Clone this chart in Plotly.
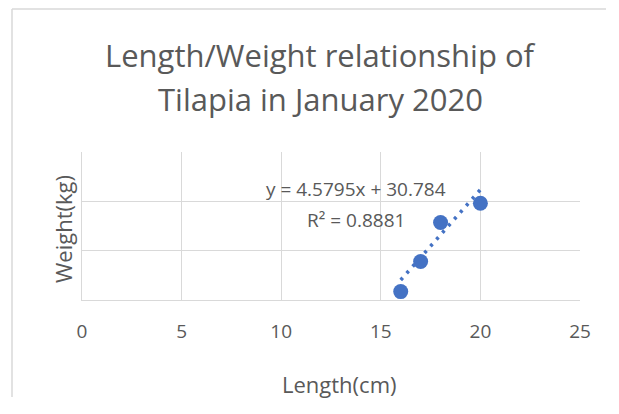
import plotly.graph_objects as go

length_cm = [16, 17, 18, 20]
weight_kg = [101.7, 107.8, 115.7, 119.6]
trend_slope = 4.5795
trend_intercept = 30.784
r_squared = 0.8881
x_ticks = [0, 5, 10, 15, 20, 25]

blue = "#4472C4"
grey_text = "#595959"
grid = "#D9D9D9"
font_family = "Open Sans, Noto Sans, sans-serif"

trend_x = [min(length_cm), max(length_cm)]
trend_y = [trend_slope * v + trend_intercept for v in trend_x]

# plot area in page pixels: x 82..580, y 152..300 (page has 8px body margin)
PL, PR, PT, PB = 82, 580, 152, 300


def px(x):
    return (x - PL) / (PR - PL)


def py(y):
    return (PB - y) / (PB - PT)


fig = go.Figure()
fig.add_trace(go.Scatter(x=trend_x, y=trend_y, mode="lines",
                         line=dict(color=blue, width=3.5, dash="3px,6px"),
                         hoverinfo="skip", showlegend=False))
fig.add_trace(go.Scatter(x=length_cm, y=weight_kg, mode="markers",
                         marker=dict(color=blue, size=15), showlegend=False))

border = dict(color="#D9D9D9", width=1.5)
fig.update_layout(
    width=600, height=390,
    margin=dict(l=74, r=28, t=144, b=98),
    paper_bgcolor="white", plot_bgcolor="white",
    font=dict(family=font_family, color=grey_text),
    xaxis=dict(range=[0, 25], tickvals=x_ticks, showgrid=True, gridcolor=grid,
               gridwidth=1, zeroline=False, showline=True, linecolor=grid,
               ticks="", ticklabelstandoff=14,
               tickfont=dict(size=19, color=grey_text)),
    yaxis=dict(range=[100, 130], dtick=10, showgrid=True, gridcolor=grid,
               zeroline=False, showline=True, linecolor=grid, showticklabels=False,
               ticks=""),
    shapes=[
        dict(type="line", xref="paper", yref="paper", x0=px(12), y0=py(9),
             x1=px(606), y1=py(9), line=border, layer="below"),
        dict(type="line", xref="paper", yref="paper", x0=px(12), y0=py(9),
             x1=px(12), y1=py(397), line=border, layer="below"),
    ],
    annotations=[
        dict(text="Length/Weight relationship of", xref="paper", yref="paper",
             x=px(320), y=py(55), xanchor="center", yanchor="middle", showarrow=False,
             font=dict(size=31, color=grey_text, family=font_family)),
        dict(text="Tilapia in January 2020", xref="paper", yref="paper",
             x=px(320), y=py(99), xanchor="center", yanchor="middle", showarrow=False,
             font=dict(size=31, color=grey_text, family=font_family)),
        dict(text=f"y = {trend_slope}x + {trend_intercept}", xref="paper", yref="paper",
             x=px(356), y=py(189), xanchor="center", yanchor="middle", showarrow=False,
             font=dict(size=19, color=grey_text, family=font_family)),
        dict(text=f"R² = {r_squared}", xref="paper", yref="paper",
             x=px(356), y=py(220), xanchor="center", yanchor="middle", showarrow=False,
             font=dict(size=19, color=grey_text, family=font_family)),
        dict(text="Length(cm)", xref="paper", yref="paper",
             x=px(339), y=py(384), xanchor="center", yanchor="middle", showarrow=False,
             font=dict(size=22, color=grey_text, family=font_family)),
        dict(text="Weight(kg)", xref="paper", yref="paper", textangle=-90,
             x=px(63), y=py(229), xanchor="center", yanchor="middle", showarrow=False,
             font=dict(size=22, color=grey_text, family=font_family)),
    ],
)

fig.write_html("out.html")
